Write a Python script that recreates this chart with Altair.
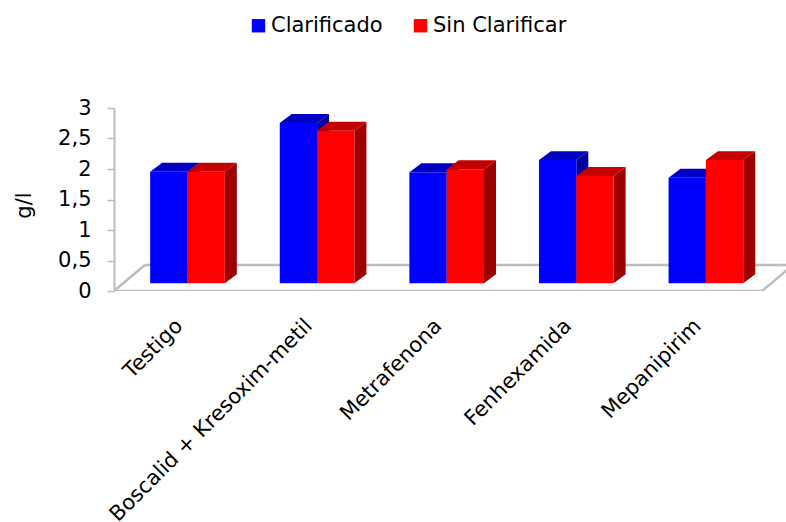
import altair as alt
import pandas as pd

# ---- data -------------------------------------------------------------
categories = ["Testigo", "Boscalid + Kresoxim-metil", "Metrafenona",
              "Fenhexamida", "Mepanipirim"]
clarificado = [1.83, 2.63, 1.82, 2.02, 1.73]
sin_clarificar = [1.83, 2.50, 1.87, 1.76, 2.02]
series_names = ["Clarificado", "Sin Clarificar"]
y_ticks = [0, 0.5, 1, 1.5, 2, 2.5, 3]

# ---- style ------------------------------------------------------------
FONT = "DejaVu Sans"
front_colors = ["#0000FF", "#FF0000"]
top_colors = ["#0000C4", "#C40000"]
side_colors = ["#00009C", "#9C0000"]
FLOOR_COLOR = "#BDBDBD"

# Oblique 3-D projection, expressed in data units
# (x: one unit per category, y: g/l).
FLOOR_DX, FLOOR_DY = 0.239, 0.425      # depth of the floor
BAR_SHIFT_X, BAR_BASE = 0.067, 0.126   # bars stand a third of the way in
BAR_W = 0.288                          # width of one column
BAR_DX, BAR_DY = 0.0926, 0.147         # depth of one column
X_MAX = 5.185

n = len(categories)

# ---- faces of every column -----------------------------------------
fronts, tops, sides = [], [], []
for s_idx, (name, vals) in enumerate(zip(series_names, [clarificado, sin_clarificar])):
    for i, v in enumerate(vals):
        centre = i + 0.5 + BAR_SHIFT_X
        xl = centre - BAR_W if s_idx == 0 else centre
        xr = xl + BAR_W
        y0, y1 = BAR_BASE, BAR_BASE + v
        key = f"{s_idx}-{i}"
        fronts.append(dict(serie=name, x=xl, x2=xr, y=y0, y2=y1))
        tops += [
            dict(serie=name, key=key, x=xl, y=y1, y2=y1),
            dict(serie=name, key=key, x=xl + BAR_DX, y=y1, y2=y1 + BAR_DY),
            dict(serie=name, key=key, x=xr, y=y1, y2=y1 + BAR_DY),
            dict(serie=name, key=key, x=xr + BAR_DX, y=y1 + BAR_DY, y2=y1 + BAR_DY),
        ]
        sides += [
            dict(serie=name, key=key, x=xr, y=y0, y2=y1),
            dict(serie=name, key=key, x=xr + BAR_DX, y=y0 + BAR_DY, y2=y1 + BAR_DY),
        ]

fronts = pd.DataFrame(fronts)
tops = pd.DataFrame(tops)
sides = pd.DataFrame(sides)

floor = pd.DataFrame([
    dict(x=0, y=0, x2=n, y2=0),
    dict(x=0, y=0, x2=FLOOR_DX, y2=FLOOR_DY),
    dict(x=FLOOR_DX, y=FLOOR_DY, x2=n + FLOOR_DX, y2=FLOOR_DY),
    dict(x=n, y=0, x2=n + FLOOR_DX, y2=FLOOR_DY),
])

labels = pd.DataFrame(dict(
    label=categories,
    x=[i + 0.5 + BAR_SHIFT_X for i in range(n)],
    y=[0] * n,
))

# ---- scales / axes -------------------------------------------------
xs = alt.Scale(domain=[0, X_MAX], nice=False, zero=False)
ys = alt.Scale(domain=[0, 3], nice=False, zero=False)
yaxis = alt.Axis(
    values=y_ticks,
    labelExpr="replace(toString(datum.value), '.', ',')",
    title="g/l", grid=False,
    domainColor=FLOOR_COLOR, domainWidth=2,
    tickColor=FLOOR_COLOR, tickSize=7, tickWidth=1.5,
    labelFont=FONT, labelFontSize=21, labelColor="black", labelPadding=16,
    titleFont=FONT, titleFontSize=21, titleFontWeight="normal", titleColor="black",
    titleX=-80, titleY=97,
)


def X(field="x"):
    return alt.X(f"{field}:Q", scale=xs, axis=None)


def Y(field="y"):
    return alt.Y(f"{field}:Q", scale=ys, axis=yaxis, stack=None)


color = alt.Color(
    "serie:N",
    scale=alt.Scale(domain=series_names, range=front_colors),
    legend=alt.Legend(
        orient="none", legendX=134, legendY=-93, direction="horizontal",
        title=None, symbolType="square", symbolSize=180, symbolStrokeWidth=0,
        labelFont=FONT, labelFontSize=21, labelColor="black", labelOffset=2,
        columnPadding=27, padding=0,
    ),
)

floor_layer = alt.Chart(floor).mark_rule(
    color=FLOOR_COLOR, strokeWidth=2.5, clip=True
).encode(x=X(), y=Y(), x2="x2:Q", y2="y2:Q")

layers = [floor_layer]
for s_idx, name in enumerate(series_names):
    side = alt.Chart(sides).transform_filter(
        alt.datum.serie == name
    ).mark_area(orient="vertical", color=side_colors[s_idx]).encode(
        x=X(), y=Y(), y2="y2:Q", detail="key:N"
    )
    front = alt.Chart(fronts).transform_filter(
        alt.datum.serie == name
    ).mark_rect().encode(
        x=X(), x2="x2:Q", y=Y(), y2="y2:Q", color=color
    )
    top = alt.Chart(tops).transform_filter(
        alt.datum.serie == name
    ).mark_area(orient="vertical", color=top_colors[s_idx]).encode(
        x=X(), y=Y(), y2="y2:Q", detail="key:N"
    )
    layers += [side, front, top]

label_layer = alt.Chart(labels).mark_text(
    angle=315, align="right", baseline="middle",
    font=FONT, fontSize=21, color="black", xOffset=-8, yOffset=32,
).encode(x=X(), y=Y(), text="label:N")
layers.append(label_layer)

chart = alt.layer(*layers).properties(
    width=672, height=183,
    padding={"left": 114, "top": 108, "right": 0, "bottom": 231},
    autosize=alt.AutoSizeParams(type="none"),
    background="white",
).configure_view(strokeOpacity=0)

chart.save("out.html", embed_options={"renderer": "svg", "actions": False})
